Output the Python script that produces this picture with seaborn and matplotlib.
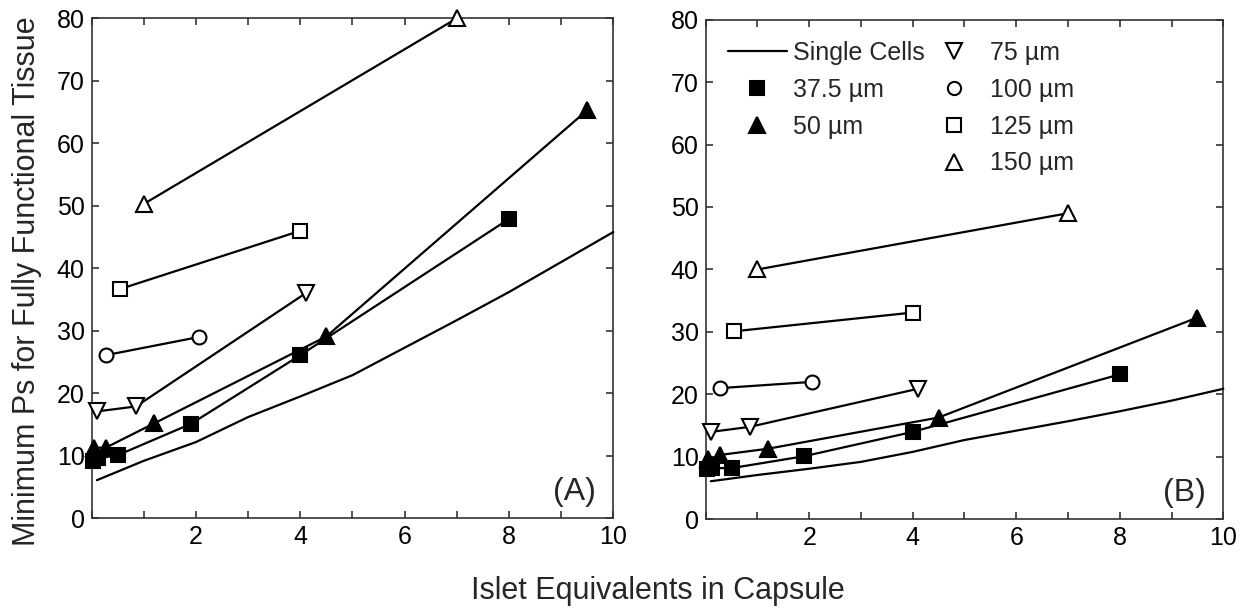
import matplotlib
matplotlib.use("Agg")
import matplotlib.pyplot as plt
import seaborn as sns
import pandas as pd
from matplotlib.lines import Line2D

sns.set_style("ticks")
plt.rcParams['font.family'] = ['Liberation Sans', 'DejaVu Sans']

# ---------------- data ----------------
single_x = [0.1, 1, 2, 3, 4, 5, 6, 7, 8, 9, 10]
a_single = [6.1, 9.2, 12.2, 16.2, 19.5, 22.9, 27.3, 31.7, 36.2, 41.0, 45.8]
b_single = [6.1, 7.1, 8.1, 9.2, 10.8, 12.7, 14.2, 15.7, 17.3, 19.0, 20.9]

x_375 = [0.02, 0.12, 0.5, 1.9, 4.0, 8.0]
a_375 = [9.2, 9.6, 10.1, 15.1, 26.1, 47.9]
b_375 = [8.1, 8.2, 8.2, 10.1, 14.0, 23.2]

x_50 = [0.05, 0.27, 1.2, 4.5, 9.5]
a_50 = [11.3, 11.3, 15.2, 29.1, 65.3]
b_50 = [9.6, 10.3, 11.3, 16.3, 32.3]

x_75 = [0.1, 0.85, 4.1]
a_75 = [17.1, 17.9, 36.0]
b_75 = [14.0, 14.8, 20.9]

x_100 = [0.27, 2.05]
a_100 = [26.1, 29.0]
b_100 = [21.0, 22.0]

x_125 = [0.55, 4.0]
a_125 = [36.7, 46.0]
b_125 = [30.1, 33.1]

x_150 = [1.0, 7.0]
a_150 = [50.3, 80.0]
b_150 = [40.0, 49.0]

labels = ["Single Cells", "37.5 µm", "50 µm", "75 µm", "100 µm", "125 µm", "150 µm"]
xticks = [2, 4, 6, 8, 10]
yticks = [0, 10, 20, 30, 40, 50, 60, 70, 80]

# marker styles: (marker, size, filled)
styles = {
    "Single Cells": (None, 0, True),
    "37.5 µm": ("s", 10, True),
    "50 µm": ("^", 12, True),
    "75 µm": ("v", 12, False),
    "100 µm": ("o", 10, False),
    "125 µm": ("s", 10, False),
    "150 µm": ("^", 12, False),
}

panels = {
    "A": [(single_x, a_single), (x_375, a_375), (x_50, a_50), (x_75, a_75),
          (x_100, a_100), (x_125, a_125), (x_150, a_150)],
    "B": [(single_x, b_single), (x_375, b_375), (x_50, b_50), (x_75, b_75),
          (x_100, b_100), (x_125, b_125), (x_150, b_150)],
}

fig = plt.figure(figsize=(12.47, 6.11), dpi=100)
axA = fig.add_axes([0.0735, 0.1517, 0.4183, 0.8183])
axB = fig.add_axes([0.5659, 0.1500, 0.4151, 0.8180])

LW = 1.6
for name, ax in (("A", axA), ("B", axB)):
    for lab, (xs, ys) in zip(labels, panels[name]):
        df = pd.DataFrame({"x": xs, "y": ys})
        m, ms, filled = styles[lab]
        kw = dict(color="black", linewidth=LW, ax=ax, clip_on=False, zorder=3)
        if m is not None:
            kw.update(marker=m, markersize=ms,
                      markerfacecolor="black" if filled else "white",
                      markeredgecolor="black", markeredgewidth=1.5)
        sns.lineplot(data=df, x="x", y="y", estimator=None, sort=False, **kw)
    ax.set_xlim(0, 10)
    ax.set_ylim(0, 80)
    ax.set_xticks(range(0, 11))
    ax.set_xticklabels(["" if t not in xticks else str(t) for t in range(0, 11)])
    ax.set_yticks(yticks)
    ax.set_yticklabels([str(t) for t in yticks])
    ax.set_xlabel("")
    ax.set_ylabel("")
    ax.tick_params(direction="in", length=5, width=1.1, top=True, right=True,
                   labelsize=18, pad=5, colors="#222222", labelcolor="black")
    for sp in ax.spines.values():
        sp.set_visible(True)
        sp.set_linewidth(1.2)
        sp.set_color("#333333")
    ax.text(0.966, 0.022, "(%s)" % name, transform=ax.transAxes,
            ha="right", va="bottom", fontsize=23)

# legend in panel B
handles = []
for lab in labels:
    m, ms, filled = styles[lab]
    if m is None:
        handles.append(Line2D([], [], color="black", linewidth=LW))
    else:
        handles.append(Line2D([], [], linestyle="none", marker=m, markersize=ms * 0.95,
                              markerfacecolor="black" if filled else "white",
                              markeredgecolor="black", markeredgewidth=1.5))
blank = Line2D([], [], linestyle="none")
order_h = handles[:3] + [blank] + handles[3:]
order_l = labels[:3] + [""] + labels[3:]
axB.legend(order_h, order_l, ncol=2, loc="upper left", bbox_to_anchor=(0.043, 0.957),
           frameon=False, handlelength=2.36, handletextpad=0.25, columnspacing=0.0,
           labelspacing=0.51, fontsize=18, borderaxespad=0, borderpad=0)

fig.text(27 / 1247, 1 - 281 / 611, "Minimum Ps for Fully Functional Tissue",
         rotation=90, ha="center", va="center", fontsize=22)
fig.text(658 / 1247, 1 - 591 / 611, "Islet Equivalents in Capsule",
         ha="center", va="center", fontsize=22)

fig.savefig("out.png", dpi=100)
